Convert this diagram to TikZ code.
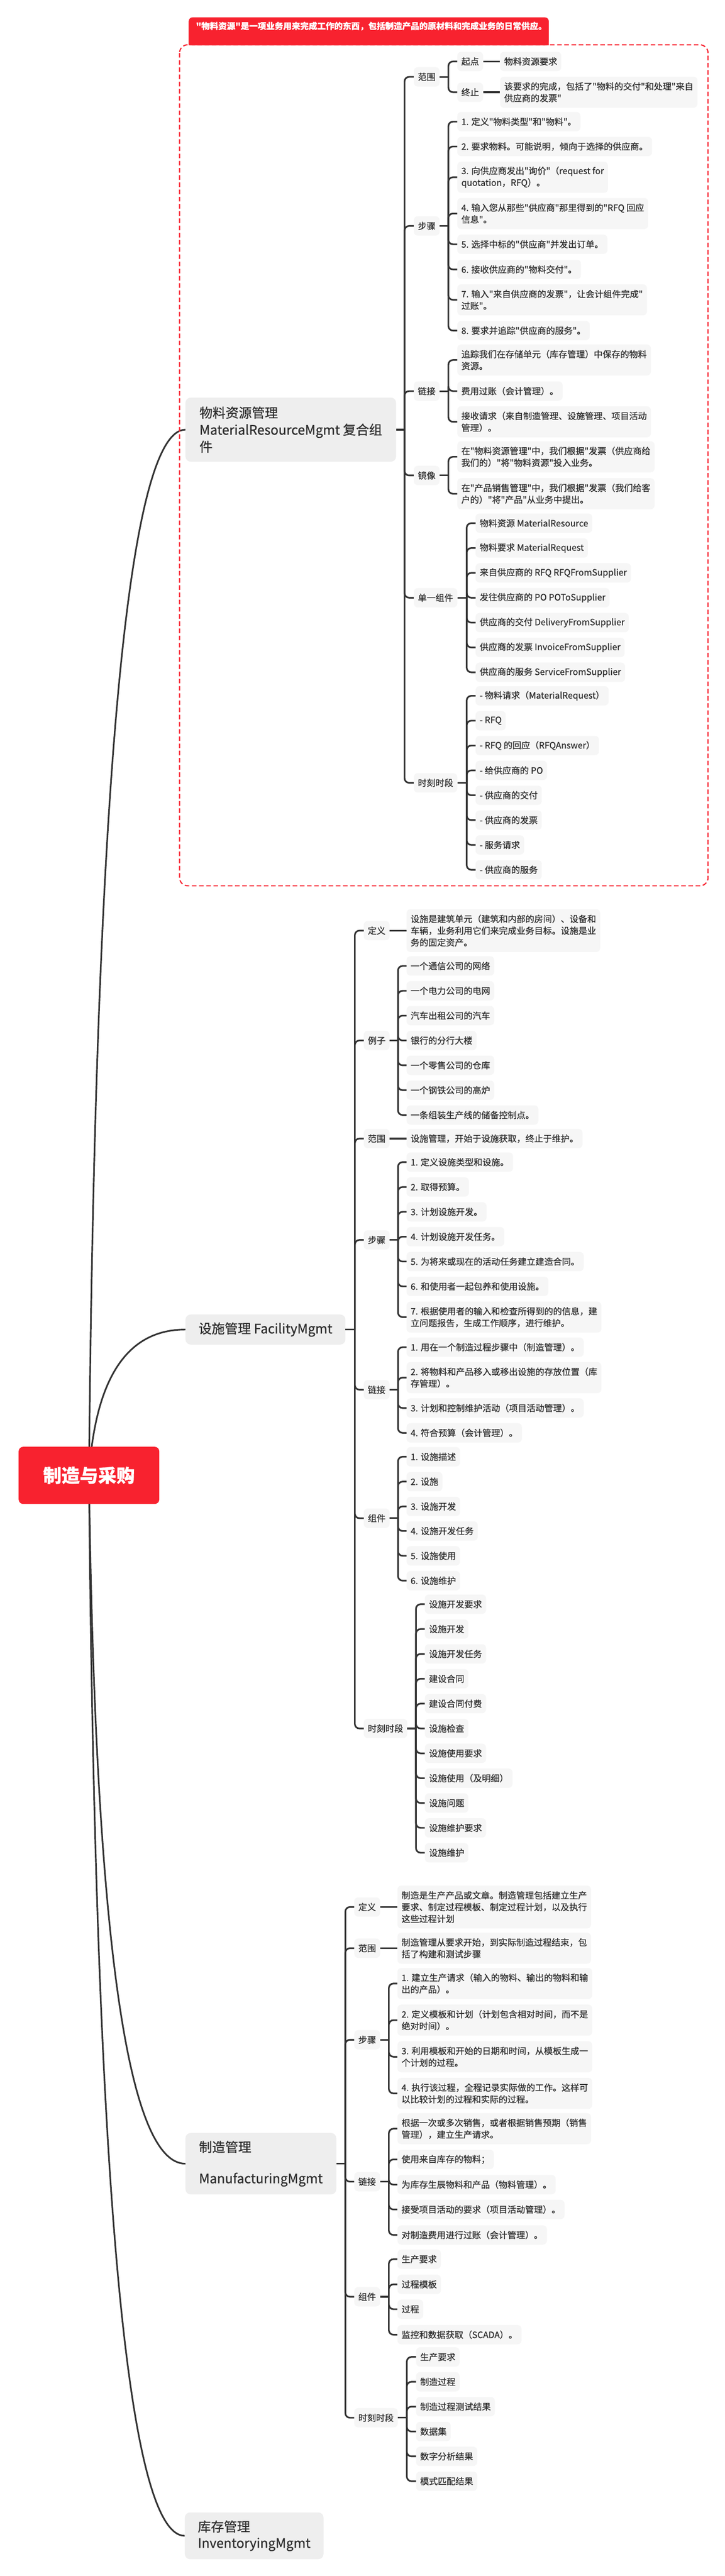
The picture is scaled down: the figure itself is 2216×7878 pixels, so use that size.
\documentclass[tikz,border=0pt]{standalone}
\usepackage{fontspec}
\setmainfont{Noto Sans CJK SC}[Ligatures=TeXOff, RawFeature={embolden=0.7}]
\definecolor{lc}{HTML}{333333}
\definecolor{tc}{HTML}{2E2E2E}
\definecolor{lf}{HTML}{F6F6F6}
\definecolor{lonef}{HTML}{EEEEEE}
\definecolor{bred}{HTML}{F8222F}
\pgfdeclarelayer{bg}
\pgfsetlayers{bg,main}
\newcommand\fsA{\fontsize{27pt}{36pt}\selectfont}
\newcommand\fsB{\fontsize{40pt}{52pt}\selectfont}
\newcommand\fsR{\fontsize{56pt}{64pt}\selectfont\bfseries}
\newcommand\fsN{\fontsize{26pt}{34pt}\selectfont\bfseries}
\newcommand\brn[3]{\draw[conn] (#1.east) -- (#1.east -| #2);\foreach \cc in {#3}{\draw[bendc] (#1.east -| #2) |- (\cc.west);}}
\tikzset{
  conn/.style={draw=lc, line width=5pt},
  bendc/.style={draw=lc, line width=5pt, rounded corners=14pt},
  leaf/.style={fill=lf, rounded corners=12pt, inner xsep=12.5pt, inner ysep=0pt, minimum height=59pt, anchor=west, text=tc, align=left, font=\fsA},
  two/.style={minimum height=95pt},
  three/.style={minimum height=131pt},
  topic/.style={fill=lonef, rounded corners=16pt, inner xsep=12pt, inner ysep=0pt, anchor=west, text=tc, align=left, font=\fsB},
  rootn/.style={fill=bred, rounded corners=14pt, text=white, font=\fsR, minimum width=430pt, minimum height=175pt, inner sep=0pt},
}
\begin{document}
\begin{tikzpicture}[x=1pt,y=-1pt]
\useasboundingbox (0,0) rectangle (2216,7878);
\begin{pgfonlayer}{bg}
\fill[white] (0,0) rectangle (2216,7878);
\end{pgfonlayer}
% boundary and banner
\draw[draw=bred, line width=3.5pt, dash pattern=on 14pt off 8pt, rounded corners=25pt] (549,137) rectangle (2165,2709);
\fill[bred, rounded corners=12pt] (577,53) rectangle (1678,139);
\fill[bred] (577,100) rectangle (1678,139);
\node[anchor=west, text=white, font=\fsN, inner sep=0pt] (banner) at (599,80) {"物料资源"是一项业务用来完成工作的东西，包括制造产品的原材料和完成业务的日常供应。};
% root
\node[rootn] (root) at (272,4512) {制造与采购};
% level 1
\node[topic, minimum width=644pt, minimum height=196pt] (M1) at (567,1314) {物料资源管理\\MaterialResourceMgmt 复合组\\件};
\node[topic, minimum width=489pt, minimum height=92pt] (F) at (567,4066) {设施管理 FacilityMgmt};
\node[topic, minimum width=461pt, minimum height=188pt] (Mf) at (567,6617) {制造管理\\[44pt]ManufacturingMgmt};
\node[topic, minimum width=424pt, minimum height=143pt, font=\fontsize{40pt}{50pt}\selectfont] (Inv) at (565,7755) {库存管理\\InventoryingMgmt};
% trunk coordinates
\coordinate (t1) at (1237,0);
\coordinate (tA) at (1371,0);
\coordinate (tB) at (1427,0);
\coordinate (t2) at (1085,0);
\coordinate (tC) at (1217,0);
\coordinate (tD) at (1272,0);
\coordinate (t3) at (1056,0);
\coordinate (tE) at (1189,0);
\coordinate (tF) at (1244,0);
% ===== section 1 =====
\node[leaf] (a1) at (1265,235) {范围};
\node[leaf] (a2) at (1265,691) {步骤};
\node[leaf] (a3) at (1265,1196) {链接};
\node[leaf] (a4) at (1265,1454) {镜像};
\node[leaf] (a5) at (1265,1828) {单一组件};
\node[leaf] (a6) at (1265,2394) {时刻时段};
\node[leaf] (a1s) at (1398,188) {起点};
\node[leaf] (a1e) at (1398,282) {终止};
\node[leaf] (a1sc) at (1529,188) {物料资源要求};
\node[leaf,two] (a1ec) at (1529,282) {该要求的完成，包括了"物料的交付"和处理"来自\\供应商的发票"};
\node[leaf] (a2i1) at (1398,372) {1. 定义"物料类型"和"物料"。};
\node[leaf] (a2i2) at (1398,448) {2. 要求物料。可能说明，倾向于选择的供应商。};
\node[leaf,two] (a2i3) at (1398,542) {3. 向供应商发出"询价"（request for\\quotation，RFQ）。};
\node[leaf,two] (a2i4) at (1398,653) {4. 输入您从那些"供应商"那里得到的"RFQ 回应\\信息"。};
\node[leaf] (a2i5) at (1398,747) {5. 选择中标的"供应商"并发出订单。};
\node[leaf] (a2i6) at (1398,824) {6. 接收供应商的"物料交付"。};
\node[leaf,two] (a2i7) at (1398,917) {7. 输入"来自供应商的发票"，让会计组件完成"\\过账"。};
\node[leaf] (a2i8) at (1398,1011) {8. 要求并追踪"供应商的服务"。};
\node[leaf,two] (a3i1) at (1398,1101) {追踪我们在存储单元（库存管理）中保存的物料\\资源。};
\node[leaf] (a3i2) at (1398,1196) {费用过账（会计管理）。};
\node[leaf,two] (a3i3) at (1398,1290) {接收请求（来自制造管理、设施管理、项目活动\\管理）。};
\node[leaf,two] (a4i1) at (1398,1397) {在"物料资源管理"中，我们根据"发票（供应商给\\我们的）"将"物料资源"投入业务。};
\node[leaf,two] (a4i2) at (1398,1510) {在"产品销售管理"中，我们根据"发票（我们给客\\户的）"将"产品"从业务中提出。};
\node[leaf] (a5i1) at (1454,1600) {物料资源 MaterialResource};
\node[leaf] (a5i2) at (1454,1676) {物料要求 MaterialRequest};
\node[leaf] (a5i3) at (1454,1752) {来自供应商的 RFQ RFQFromSupplier};
\node[leaf] (a5i4) at (1454,1828) {发往供应商的 PO POToSupplier};
\node[leaf] (a5i5) at (1454,1904) {供应商的交付 DeliveryFromSupplier};
\node[leaf] (a5i6) at (1454,1980) {供应商的发票 InvoiceFromSupplier};
\node[leaf] (a5i7) at (1454,2056) {供应商的服务 ServiceFromSupplier};
\node[leaf] (a6i1) at (1454,2128) {- 物料请求（MaterialRequest）};
\node[leaf] (a6i2) at (1454,2204) {- RFQ};
\node[leaf] (a6i3) at (1454,2280) {- RFQ 的回应（RFQAnswer）};
\node[leaf] (a6i4) at (1454,2356) {- 给供应商的 PO};
\node[leaf] (a6i5) at (1454,2432) {- 供应商的交付};
\node[leaf] (a6i6) at (1454,2508) {- 供应商的发票};
\node[leaf] (a6i7) at (1454,2584) {- 服务请求};
\node[leaf] (a6i8) at (1454,2660) {- 供应商的服务};
% ===== section 2 =====
\node[leaf] (b1) at (1112,2846) {定义};
\node[leaf] (b2) at (1112,3182) {例子};
\node[leaf] (b3) at (1112,3482) {范围};
\node[leaf] (b4) at (1112,3792) {步骤};
\node[leaf] (b5) at (1112,4250) {链接};
\node[leaf] (b6) at (1112,4643) {组件};
\node[leaf] (b7) at (1112,5286) {时刻时段};
\node[leaf,three] (b1c) at (1243,2846) {设施是建筑单元（建筑和内部的房间）、设备和\\车辆，业务利用它们来完成业务目标。设施是业\\务的固定资产。};
\node[leaf] (b2i1) at (1243,2954) {一个通信公司的网络};
\node[leaf] (b2i2) at (1243,3030) {一个电力公司的电网};
\node[leaf] (b2i3) at (1243,3106) {汽车出租公司的汽车};
\node[leaf] (b2i4) at (1243,3182) {银行的分行大楼};
\node[leaf] (b2i5) at (1243,3258) {一个零售公司的仓库};
\node[leaf] (b2i6) at (1243,3334) {一个钢铁公司的高炉};
\node[leaf] (b2i7) at (1243,3410) {一条组装生产线的储备控制点。};
\node[leaf] (b3c) at (1243,3482) {设施管理，开始于设施获取，终止于维护。};
\node[leaf] (b4i1) at (1243,3554) {1. 定义设施类型和设施。};
\node[leaf] (b4i2) at (1243,3630) {2. 取得预算。};
\node[leaf] (b4i3) at (1243,3706) {3. 计划设施开发。};
\node[leaf] (b4i4) at (1243,3782) {4. 计划设施开发任务。};
\node[leaf] (b4i5) at (1243,3858) {5. 为将来或现在的活动任务建立建造合同。};
\node[leaf] (b4i6) at (1243,3934) {6. 和使用者一起包养和使用设施。};
\node[leaf,two] (b4i7) at (1243,4028) {7. 根据使用者的输入和检查所得到的的信息，建\\立问题报告，生成工作顺序，进行维护。};
\node[leaf] (b5i1) at (1243,4120) {1. 用在一个制造过程步骤中（制造管理）。};
\node[leaf,two] (b5i2) at (1243,4213) {2. 将物料和产品移入或移出设施的存放位置（库\\存管理）。};
\node[leaf] (b5i3) at (1243,4306) {3. 计划和控制维护活动（项目活动管理）。};
\node[leaf] (b5i4) at (1243,4382) {4. 符合预算（会计管理）。};
\node[leaf] (b6i1) at (1243,4455) {1. 设施描述};
\node[leaf] (b6i2) at (1243,4531) {2. 设施};
\node[leaf] (b6i3) at (1243,4607) {3. 设施开发};
\node[leaf] (b6i4) at (1243,4682) {4. 设施开发任务};
\node[leaf] (b6i5) at (1243,4758) {5. 设施使用};
\node[leaf] (b6i6) at (1243,4834) {6. 设施维护};
\node[leaf] (b7i1) at (1299,4906) {设施开发要求};
\node[leaf] (b7i2) at (1299,4982) {设施开发};
\node[leaf] (b7i3) at (1299,5058) {设施开发任务};
\node[leaf] (b7i4) at (1299,5134) {建设合同};
\node[leaf] (b7i5) at (1299,5210) {建设合同付费};
\node[leaf] (b7i6) at (1299,5286) {设施检查};
\node[leaf] (b7i7) at (1299,5362) {设施使用要求};
\node[leaf] (b7i8) at (1299,5438) {设施使用（及明细）};
\node[leaf] (b7i9) at (1299,5514) {设施问题};
\node[leaf] (b7i10) at (1299,5590) {设施维护要求};
\node[leaf] (b7i11) at (1299,5666) {设施维护};
% ===== section 3 =====
\node[leaf] (c1) at (1083,5832) {定义};
\node[leaf] (c2) at (1083,5958) {范围};
\node[leaf] (c3) at (1083,6238) {步骤};
\node[leaf] (c4) at (1083,6672) {链接};
\node[leaf] (c5) at (1083,7024) {组件};
\node[leaf] (c6) at (1083,7394) {时刻时段};
\node[leaf,three] (c1c) at (1215,5832) {制造是生产产品或文章。制造管理包括建立生产\\要求、制定过程模板、制定过程计划，以及执行\\这些过程计划};
\node[leaf,two] (c2c) at (1215,5958) {制造管理从要求开始，到实际制造过程结束，包\\括了构建和测试步骤};
\node[leaf,two] (c3i1) at (1215,6066) {1. 建立生产请求（输入的物料、输出的物料和输\\出的产品）。};
\node[leaf,two] (c3i2) at (1215,6178) {2. 定义模板和计划（计划包含相对时间，而不是\\绝对时间）。};
\node[leaf,two] (c3i3) at (1215,6290) {3. 利用模板和开始的日期和时间，从模板生成一\\个计划的过程。};
\node[leaf,two] (c3i4) at (1215,6402) {4. 执行该过程，全程记录实际做的工作。这样可\\以比较计划的过程和实际的过程。};
\node[leaf,two] (c4i1) at (1215,6510) {根据一次或多次销售，或者根据销售预期（销售\\管理），建立生产请求。};
\node[leaf] (c4i2) at (1215,6604) {使用来自库存的物料；};
\node[leaf] (c4i3) at (1215,6681) {为库存生辰物料和产品（物料管理）。};
\node[leaf] (c4i4) at (1215,6757) {接受项目活动的要求（项目活动管理）。};
\node[leaf] (c4i5) at (1215,6835) {对制造费用进行过账（会计管理）。};
\node[leaf] (c5i1) at (1215,6909) {生产要求};
\node[leaf] (c5i2) at (1215,6986) {过程模板};
\node[leaf] (c5i3) at (1215,7062) {过程};
\node[leaf] (c5i4) at (1215,7140) {监控和数据获取（SCADA）。};
\node[leaf] (c6i1) at (1272,7208) {生产要求};
\node[leaf] (c6i2) at (1272,7284) {制造过程};
\node[leaf] (c6i3) at (1272,7360) {制造过程测试结果};
\node[leaf] (c6i4) at (1272,7436) {数据集};
\node[leaf] (c6i5) at (1272,7512) {数字分析结果};
\node[leaf] (c6i6) at (1272,7588) {模式匹配结果};
% ===== connectors =====
\begin{pgfonlayer}{bg}
\draw[conn] (root.center) .. controls (291,2446) and (388,1314) .. (M1.west);
\draw[conn] (root.center) .. controls (291,4215) and (388,4066) .. (F.west);
\draw[conn] (root.center) .. controls (291,5915) and (388,6617) .. (Mf.west);
\draw[conn] (root.center) .. controls (291,6674) and (388,7755) .. (Inv.west);
\end{pgfonlayer}
\brn{M1}{t1}{a1,a2,a3,a4,a5,a6}
\brn{a1}{tA}{a1s,a1e}
\draw[conn] (a1s.east) -- (a1sc.west);
\draw[conn] (a1e.east) -- (a1ec.west);
\brn{a2}{tA}{a2i1,a2i2,a2i3,a2i4,a2i5,a2i6,a2i7,a2i8}
\brn{a3}{tA}{a3i1,a3i2,a3i3}
\brn{a4}{tA}{a4i1,a4i2}
\brn{a5}{tB}{a5i1,a5i2,a5i3,a5i4,a5i5,a5i6,a5i7}
\brn{a6}{tB}{a6i1,a6i2,a6i3,a6i4,a6i5,a6i6,a6i7,a6i8}
\brn{F}{t2}{b1,b2,b3,b4,b5,b6,b7}
\draw[conn] (b1.east) -- (b1c.west);
\brn{b2}{tC}{b2i1,b2i2,b2i3,b2i4,b2i5,b2i6,b2i7}
\draw[conn] (b3.east) -- (b3c.west);
\brn{b4}{tC}{b4i1,b4i2,b4i3,b4i4,b4i5,b4i6,b4i7}
\brn{b5}{tC}{b5i1,b5i2,b5i3,b5i4}
\brn{b6}{tC}{b6i1,b6i2,b6i3,b6i4,b6i5,b6i6}
\brn{b7}{tD}{b7i1,b7i2,b7i3,b7i4,b7i5,b7i6,b7i7,b7i8,b7i9,b7i10,b7i11}
\brn{Mf}{t3}{c1,c2,c3,c4,c5,c6}
\draw[conn] (c1.east) -- (c1c.west);
\draw[conn] (c2.east) -- (c2c.west);
\brn{c3}{tE}{c3i1,c3i2,c3i3,c3i4}
\brn{c4}{tE}{c4i1,c4i2,c4i3,c4i4,c4i5}
\brn{c5}{tE}{c5i1,c5i2,c5i3,c5i4}
\brn{c6}{tF}{c6i1,c6i2,c6i3,c6i4,c6i5,c6i6}
\end{tikzpicture}
\end{document}
